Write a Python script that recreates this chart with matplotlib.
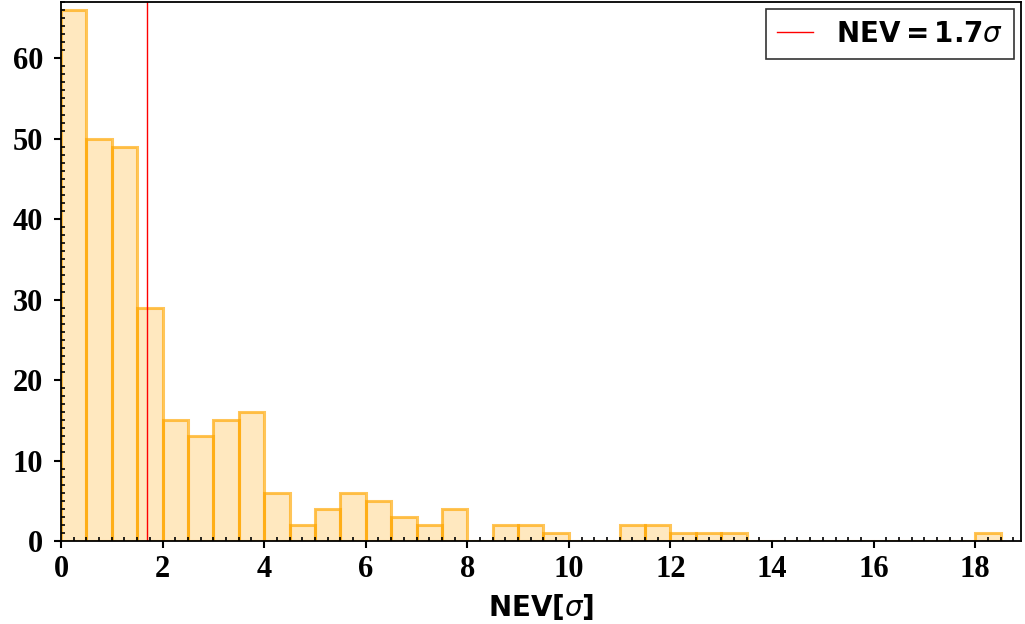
import numpy as np
import matplotlib.pyplot as plt
from matplotlib.ticker import MultipleLocator

# histogram counts per 0.5-sigma bin, starting at 0
counts = [66, 50, 49, 29, 15, 13, 15, 16, 6, 2, 4, 6, 5, 3, 2, 4,
          0, 2, 2, 1, 0, 0, 2, 2, 1, 1, 1,
          0, 0, 0, 0, 0, 0, 0, 0, 0, 1]
bin_width = 0.5
nev_cut = 1.7

edges = np.arange(len(counts) + 1) * bin_width
centers = edges[:-1] + bin_width / 2

fig = plt.figure(figsize=(10.25, 6.24), dpi=100)
ax = fig.add_axes([0.0595, 0.133, 0.9365, 0.864])

ax.hist(centers, bins=edges, weights=counts, histtype='stepfilled',
        facecolor=(1.0, 0.65, 0.0, 0.25), edgecolor='none')
ax.hist(centers, bins=edges, weights=counts, histtype='bar', rwidth=1.0,
        facecolor='none', edgecolor=(1.0, 0.65, 0.0, 0.65), linewidth=2.2)
ax.axvline(nev_cut, color='red', lw=1.0, label=r'$\mathbf{NEV=1.7}\sigma$')

ax.set_xlim(0, 18.9)
ax.set_ylim(0, 67)
ax.xaxis.set_major_locator(MultipleLocator(2))
ax.xaxis.set_minor_locator(MultipleLocator(0.25))
ax.yaxis.set_major_locator(MultipleLocator(10))
ax.yaxis.set_minor_locator(MultipleLocator(1))
ax.tick_params(which='major', direction='out', length=5, width=1.5, pad=5)
ax.tick_params(axis='y', which='major', pad=8)
ax.tick_params(which='minor', direction='in', length=3, width=1.2)
for lab in ax.get_xticklabels() + ax.get_yticklabels():
    lab.set_family('Liberation Serif')
    lab.set_fontweight('bold')
    lab.set_fontsize(22)
for s in ax.spines.values():
    s.set_linewidth(1.3)

ax.set_xlabel(r'NEV[$\sigma$]', fontsize=20, fontweight='bold', labelpad=6)

leg = ax.legend(loc='upper right', fontsize=20, fancybox=False,
                edgecolor='black', handlelength=1.3, borderaxespad=0.25,
                borderpad=0.4)
leg.get_frame().set_linewidth(1.2)

plt.savefig('out.png', dpi=100)
